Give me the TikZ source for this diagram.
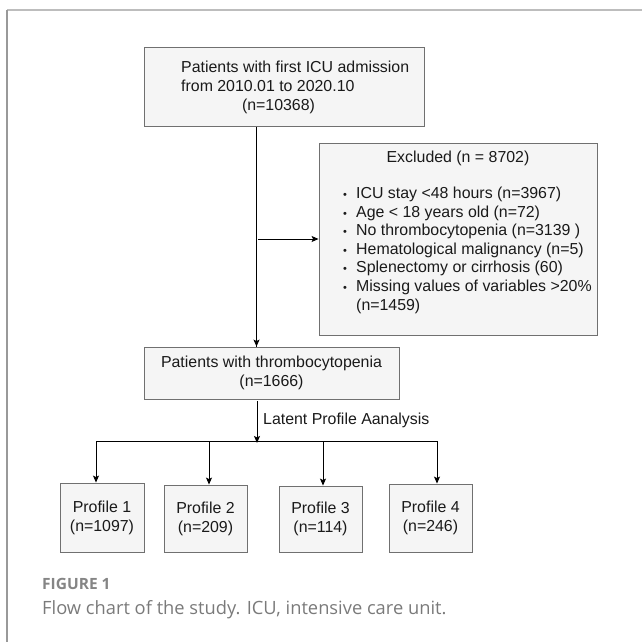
\documentclass[tikz,border=0pt]{standalone}
\usepackage{fontspec}
\setmainfont{Liberation Sans}
\newfontfamily\capfont{Open Sans}
\usetikzlibrary{arrows.meta}
\definecolor{boxfill}{HTML}{F5F5F5}
\definecolor{boxdraw}{HTML}{707070}
\definecolor{txtc}{HTML}{1A1A1A}
\definecolor{capc}{HTML}{7A7A7A}
\definecolor{capb}{HTML}{858585}
\definecolor{frametop}{HTML}{BDBDBD}
\definecolor{frameleft}{HTML}{999999}
\begin{document}
\begin{tikzpicture}[x=1bp,y=-1bp,
  box/.style={draw=boxdraw, fill=boxfill, line width=0.9bp, inner sep=0pt},
  txt/.style={font=\fontsize{15.9bp}{19bp}\selectfont, text=txtc, inner sep=0pt},
  arr/.style={-{Stealth[length=7bp,width=6bp,inset=1.5bp]}, line width=0.9bp, draw=black}]
\useasboundingbox (0,0) rectangle (642,642);
% frame
\draw[frametop, line width=1.6bp] (7,10) -- (642,10);
\draw[frameleft, line width=1.2bp] (7,10) -- (7,642);
% boxes
\node[box, minimum width=280bp, minimum height=79bp] (top) at (284,86.5) {};
\node[txt, anchor=base west] (t1) at (181,72.5) {Patients with first ICU admission};
\node[txt, anchor=base west] (t2) at (181,91.5) {from 2010.01 to 2020.10};
\node[txt, anchor=base] (t3) at (278.5,110.5) {(n=10368)};

\node[box, minimum width=278bp, minimum height=192bp] (excl) at (458,239) {};
\node[txt, anchor=base] (ex0) at (458,162.5) {Excluded (n = 8702)};
\foreach \i/\t in {1/{ICU stay <48 hours (n=3967)},2/{Age < 18 years old (n=72)},3/{No thrombocytopenia (n=3139 )},4/{Hematological malignancy (n=5)},5/{Splenectomy or cirrhosis (60)},6/{Missing values of variables >20\%}}{
  \node[txt, anchor=base west] (ex\i) at (356,198.5+18.6*\i-18.6) {\t};
  \node[txt, anchor=base] (bu\i) at (345,198.5+18.6*\i-18.6) {\fontsize{11bp}{11bp}\selectfont•};
}
\node[txt, anchor=base west] (ex7) at (356,310.1) {(n=1459)};

\node[box, minimum width=255bp, minimum height=52bp, txt, align=center] (thr) at (271.5,373) {Patients with thrombocytopenia\\(n=1666)};

\node[box, minimum width=84bp, minimum height=69bp, txt, align=center] (p1) at (102,517.5) {Profile 1\\(n=1097)};
\node[box, minimum width=83bp, minimum height=67bp, txt, align=center] (p2) at (205.5,518.5) {Profile 2\\(n=209)};
\node[box, minimum width=83bp, minimum height=66bp, txt, align=center] (p3) at (320.5,519) {Profile 3\\(n=114)};
\node[box, minimum width=83bp, minimum height=68bp, txt, align=center] (p4) at (430.5,518) {Profile 4\\(n=246)};

% connectors
\coordinate (ms) at (256.5,127);
\coordinate (mj) at (256.5,239);
\coordinate (br) at (257,441);
\coordinate (b1) at (96,441);
\coordinate (b2) at (209,441);
\coordinate (b3) at (323,441);
\coordinate (b4) at (437,441);
\draw[line width=0.9bp] (ms) -- (ms |- thr.north);
\draw[arr] (ms |- thr.north) ++(0,-8) -- (ms |- thr.north);
\draw[arr] ([xshift=1.5bp]mj) -- (excl.west);
\draw[arr] (br |- thr.south) ++(0,2) -- ([yshift=-2bp]br);
\draw[line width=0.9bp] (b1) -- (b4);
\draw[arr] (b1) -- (b1 |- p1.north);
\draw[arr] (b2) -- (b2 |- p2.north);
\draw[arr] (b3) -- (b3 |- p3.north);
\draw[arr] (b4) -- (b4 |- p4.north);
\node[txt, anchor=base west] (lpa) at (263,424.5) {Latent Profile Aanalysis};

% caption
\node[anchor=base west, inner sep=0pt, text=capb, font=\capfont\bfseries\fontsize{15.5bp}{15.5bp}\selectfont] (fig) at (42,589.5) {FIGURE 1};
\node[anchor=base west, inner sep=0pt, text=capc, font=\capfont\fontsize{18.3bp}{19bp}\selectfont] (cap) at (42,614) {Flow chart of the study. ICU, intensive care unit.};
\end{tikzpicture}
\end{document}
